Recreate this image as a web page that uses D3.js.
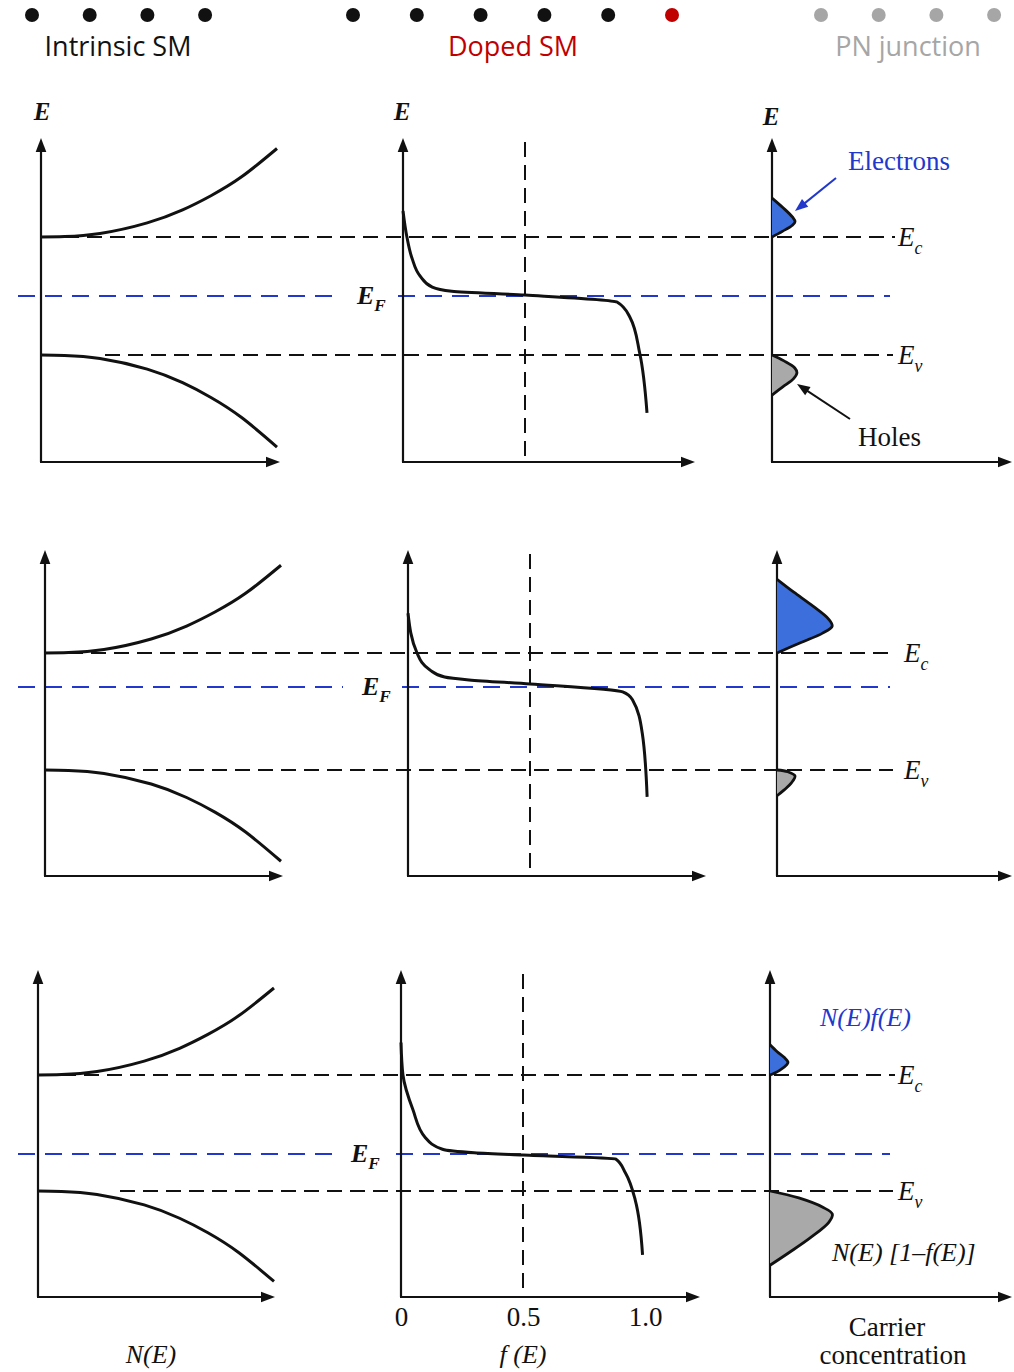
<!DOCTYPE html>
<html><head><meta charset="utf-8">
<script src="https://cdn.jsdelivr.net/npm/d3@7"></script>
<style>html,body{margin:0;background:#fff}svg{display:block}</style>
</head><body>
<svg id="fig" width="1014" height="1372"></svg>
<script>
// ---------- data ----------
const navSections = ["Intrinsic SM", "Doped SM", "PN junction"];
const navDotCounts = [4, 6, 4];
const navCurrent = { section: 1, dot: 5 };

// Fermi level of each row, in band-gap units above Ev (Ev = 0, Ec = 1)
const fermiLevel = [0.5, 0.71, 0.32];

// density of states: [N, distance from band edge]
const dosConduction = [[0,0],[0.1,0.004],[0.25,0.03],[0.45,0.12],[0.6,0.23],[0.72,0.35],[0.85,0.51],[1.0,0.75]];
const dosValence    = [[0,0],[0.1,0.004],[0.25,0.03],[0.45,0.12],[0.6,0.235],[0.72,0.36],[0.85,0.53],[1.0,0.78]];

// Fermi-Dirac occupation: [f, E]
const fermiIntrinsic = [[0,1.22],[0.016,1.0],[0.037,0.82],[0.07,0.67],[0.12,0.575],[0.2,0.54],[0.5,0.508],[0.877,0.449],[0.93,0.32],[0.97,0.017],[1.0,-0.49]];
const fermiNType     = [[0,1.34],[0.037,1.0],[0.09,0.855],[0.15,0.795],[0.25,0.77],[0.5,0.735],[0.88,0.667],[0.92,0.6],[0.96,0.316],[0.98,-0.23]];
const fermiPType     = [[0,1.28],[0.008,1.0],[0.049,0.70],[0.1,0.46],[0.17,0.36],[0.3,0.33],[0.5,0.31],[0.88,0.276],[0.92,0.155],[0.96,-0.078],[0.99,-0.55]];
const fermiCurves = [fermiIntrinsic, fermiNType, fermiPType];

// carrier distributions: [n, distance from band edge]
const electronsIntrinsic = [[0,0],[0.045,0.05],[0.085,0.1],[0.096,0.13],[0.085,0.17],[0.045,0.25],[0,0.33]];
const holesIntrinsic     = [[0,0],[0.05,0.05],[0.095,0.11],[0.104,0.15],[0.09,0.2],[0.045,0.27],[0,0.34]];
const electronsNType     = [[0,0],[0.1,0.09],[0.19,0.17],[0.23,0.23],[0.215,0.29],[0.15,0.4],[0.07,0.52],[0,0.63]];
const holesNType         = [[0,0],[0.045,0.015],[0.075,0.05],[0.06,0.11],[0.03,0.17],[0,0.22]];
const electronsPType     = [[0,0],[0.04,0.04],[0.07,0.09],[0.075,0.11],[0.06,0.15],[0.03,0.2],[0,0.26]];
const holesPType         = [[0,0],[0.12,0.06],[0.22,0.14],[0.26,0.2],[0.245,0.27],[0.17,0.4],[0.08,0.53],[0,0.64]];
const electronDist = [electronsIntrinsic, electronsNType, electronsPType];
const holeDist = [holesIntrinsic, holesNType, holesPType];

const fTicks = [0, 0.5, 1.0];
const fTickLabels = ["0", "0.5", "1.0"];

// ---------- layout ----------
const rows = [
  { ev: 355,  unit: 118, base: 462,  top: 138, xl: 41, xm: 403, xr: 772, lEnd: 280, mEnd: 695, evStart: 105, efGap: [338, 398], lblX: 898 },
  { ev: 770,  unit: 117, base: 876,  top: 550, xl: 45, xm: 408, xr: 777, lEnd: 283, mEnd: 706, evStart: 120, efGap: [343, 402], lblX: 904 },
  { ev: 1191, unit: 116, base: 1297, top: 970, xl: 38, xm: 401, xr: 770, lEnd: 275, mEnd: 700, evStart: 120, efGap: [332, 396], lblX: 898 }
];
const navLayout = [
  { x0: 32,  step: 57.7, cx: 118 },
  { x0: 353, step: 63.8, cx: 513 },
  { x0: 821, step: 57.7, cx: 908 }
];
const navColor = ["#111111", "#c00000", "#a6a6a6"];
const serif = "'Liberation Serif', 'Times New Roman', serif";
const blue = "#2238cc";

const svg = d3.select("#fig");

// ---------- navigation header ----------
navSections.forEach((name, s) => {
  const L = navLayout[s];
  const dots = d3.range(navDotCounts[s]);
  svg.append("g").selectAll("circle").data(dots).join("circle")
    .attr("cx", d => L.x0 + d * L.step).attr("cy", 15).attr("r", 7)
    .attr("fill", d => (s === navCurrent.section && d === navCurrent.dot) ? "#c00000" : (s === 1 ? "#111111" : navColor[s]));
  svg.append("text").attr("x", L.cx).attr("y", 56).attr("text-anchor", "middle")
    .attr("font-family", "'Open Sans', sans-serif").attr("font-size", 27)
    .attr("fill", navColor[s]).text(name);
});

// ---------- helpers ----------
function arrowLine(g, x1, y1, x2, y2, color, w, head) {
  const a = Math.atan2(y2 - y1, x2 - x1);
  const hl = head || 13, hw = (head || 13) * 0.38;
  const bx = x2 - hl * Math.cos(a), by = y2 - hl * Math.sin(a);
  g.append("line").attr("x1", x1).attr("y1", y1).attr("x2", bx + 2 * Math.cos(a)).attr("y2", by + 2 * Math.sin(a))
    .attr("stroke", color).attr("stroke-width", w);
  g.append("path")
    .attr("d", `M${x2},${y2}L${bx - hw * Math.sin(a)},${by + hw * Math.cos(a)}L${bx + hw * Math.sin(a)},${by - hw * Math.cos(a)}Z`)
    .attr("fill", color);
}
function hDash(g, x1, x2, y, color, dash, w) {
  g.append("line").attr("x1", x1).attr("x2", x2).attr("y1", y).attr("y2", y)
    .attr("stroke", color).attr("stroke-width", w).attr("stroke-dasharray", dash);
}
function subLabel(g, x, y, main, sub, opts) {
  const t = g.append("text").attr("x", x).attr("y", y)
    .attr("font-family", serif).attr("font-style", "italic")
    .attr("font-weight", opts.bold ? "bold" : "normal").attr("font-size", opts.size).attr("fill", "#111");
  t.append("tspan").text(main);
  t.append("tspan").attr("dy", opts.size * 0.28).attr("font-size", opts.size * 0.66).text(sub);
}

// ---------- rows ----------
rows.forEach((R, i) => {
  const g = svg.append("g");
  const y = d3.scaleLinear().domain([0, 1]).range([R.ev, R.ev - R.unit]);
  const xL = d3.scaleLinear().domain([0, 1]).range([R.xl, R.xl + 236]);
  const xM = d3.scaleLinear().domain([0, 1]).range([R.xm, R.xm + 244]);
  const xR = d3.scaleLinear().domain([0, 1]).range([R.xr, R.xr + 240]);
  const yEc = y(1), yEv = y(0), yEF = y(fermiLevel[i]);

  // band edges and Fermi level
  hDash(g, R.xl, 895, yEc, "#111", "15 8", 2);
  hDash(g, R.evStart, 893, yEv, "#111", "15 8", 2);
  hDash(g, 18, R.efGap[0], yEF, blue, "17 10", 2);
  hDash(g, R.efGap[1], 890, yEF, blue, "17 10", 2);

  // f = 0.5 guide
  g.append("line").attr("x1", xM(0.5)).attr("x2", xM(0.5)).attr("y1", R.top + 4).attr("y2", R.base)
    .attr("stroke", "#111").attr("stroke-width", 2).attr("stroke-dasharray", "15 8");

  // axes
  [[R.xl, R.lEnd], [R.xm, R.mEnd], [R.xr, 1012]].forEach(([x0, x1]) => {
    arrowLine(g, x0, R.base, x0, R.top, "#111", 2.2, 14);
    arrowLine(g, x0 - 1, R.base, x1, R.base, "#111", 2.2, 14);
  });

  // density of states
  const dosLineC = d3.line().x(d => xL(d[0])).y(d => y(1 + d[1])).curve(d3.curveNatural);
  const dosLineV = d3.line().x(d => xL(d[0])).y(d => y(0 - d[1])).curve(d3.curveNatural);
  g.append("path").attr("d", dosLineC(dosConduction)).attr("fill", "none").attr("stroke", "#111").attr("stroke-width", 3);
  g.append("path").attr("d", dosLineV(dosValence)).attr("fill", "none").attr("stroke", "#111").attr("stroke-width", 3);

  // Fermi-Dirac function
  const fLine = d3.line().x(d => xM(d[0])).y(d => y(d[1])).curve(d3.curveMonotoneY);
  g.append("path").attr("d", fLine(fermiCurves[i])).attr("fill", "none").attr("stroke", "#111").attr("stroke-width", 3);

  // carrier concentrations
  const eLine = d3.line().x(d => xR(d[0])).y(d => y(1 + d[1])).curve(d3.curveCatmullRom);
  const hLine = d3.line().x(d => xR(d[0])).y(d => y(0 - d[1])).curve(d3.curveCatmullRom);
  g.append("path").attr("d", eLine(electronDist[i]) + "Z").attr("fill", "#3d6fdc");
  g.append("path").attr("d", eLine(electronDist[i])).attr("fill", "none").attr("stroke", "#111").attr("stroke-width", 2.8);
  g.append("path").attr("d", hLine(holeDist[i]) + "Z").attr("fill", "#a9a9a9");
  g.append("path").attr("d", hLine(holeDist[i])).attr("fill", "none").attr("stroke", "#111").attr("stroke-width", 2.8);

  // level labels
  subLabel(g, R.lblX, yEc + 9, "E", "c", { size: 27 });
  subLabel(g, R.lblX, yEv + 9, "E", "v", { size: 27 });
  subLabel(g, R.efGap[0] + 19, yEF + 8, "E", "F", { size: 26, bold: true });
});

// ---------- annotations ----------
const r0 = rows[0];
[[r0.xl + 1, 120], [r0.xm - 1, 120], [r0.xr - 1, 125]].forEach(([x, yy]) => {
  svg.append("text").attr("x", x).attr("y", yy).attr("text-anchor", "middle")
    .attr("font-family", serif).attr("font-style", "italic").attr("font-weight", "bold")
    .attr("font-size", 25).attr("fill", "#111").text("E");
});
svg.append("text").attr("x", 848).attr("y", 170).attr("font-family", serif).attr("font-size", 27)
  .attr("fill", blue).text("Electrons");
arrowLine(svg.append("g"), 836, 178, 795, 211, blue, 2, 13);
svg.append("text").attr("x", 858).attr("y", 446).attr("font-family", serif).attr("font-size", 27)
  .attr("fill", "#111").text("Holes");
arrowLine(svg.append("g"), 850, 419, 797, 384, "#111", 2, 13);

svg.append("text").attr("x", 820).attr("y", 1026).attr("font-family", serif).attr("font-style", "italic")
  .attr("font-size", 26).attr("fill", blue).text("N(E)f(E)");
svg.append("text").attr("x", 832).attr("y", 1261).attr("font-family", serif).attr("font-style", "italic")
  .attr("font-size", 26).attr("fill", "#111").text("N(E) [1–f(E)]");
svg.append("text").attr("x", 887).attr("y", 1336).attr("text-anchor", "middle").attr("font-family", serif)
  .attr("font-size", 27).attr("fill", "#111").text("Carrier");
svg.append("text").attr("x", 893).attr("y", 1364).attr("text-anchor", "middle").attr("font-family", serif)
  .attr("font-size", 27).attr("fill", "#111").text("concentration");

// f(E) tick labels on the bottom row
const r2 = rows[2];
const xBottom = d3.scaleLinear().domain([0, 1]).range([r2.xm, r2.xm + 244]);
const tickAxis = d3.axisBottom(xBottom).tickValues(fTicks).tickSize(0).tickPadding(0)
  .tickFormat((d, k) => fTickLabels[k]);
const ax = svg.append("g").attr("transform", `translate(0,${r2.base + 10})`).call(tickAxis);
ax.select(".domain").remove();
ax.selectAll("text").attr("font-family", serif).attr("font-size", 27).attr("fill", "#111").attr("dy", "0.71em");

svg.append("text").attr("x", 151).attr("y", 1363).attr("text-anchor", "middle").attr("font-family", serif)
  .attr("font-style", "italic").attr("font-size", 26).attr("fill", "#111").text("N(E)");
svg.append("text").attr("x", 523).attr("y", 1363).attr("text-anchor", "middle").attr("font-family", serif)
  .attr("font-style", "italic").attr("font-size", 26).attr("fill", "#111").text("f (E)");
</script>
</body></html>
